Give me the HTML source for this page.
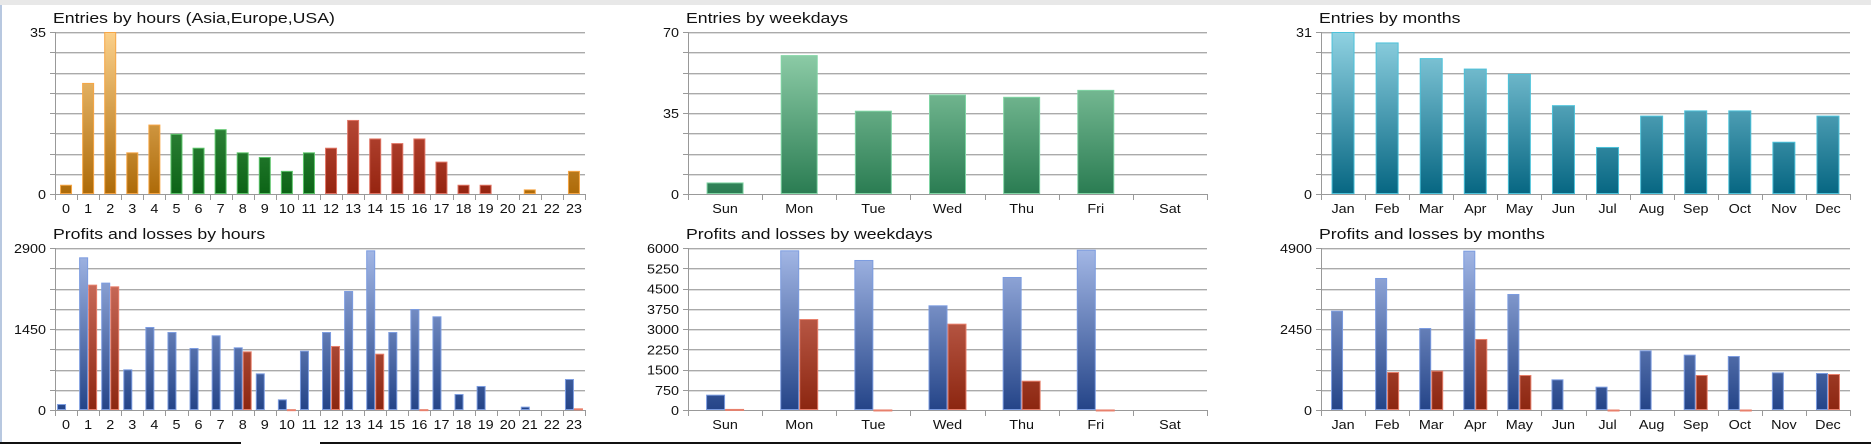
<!DOCTYPE html>
<html><head><meta charset="utf-8">
<style>
html,body{margin:0;padding:0;background:#fff;width:1871px;height:444px;overflow:hidden;font-family:"Liberation Sans",sans-serif}
#top-strip{position:absolute;left:0;top:0;width:1871px;height:5px;background:#e8e8e8}
#left-edge{position:absolute;left:0;top:5px;width:2px;height:439px;background:#b8c8e0}
.bl{position:absolute;top:442px;height:2px;background:#111}
svg{position:absolute;left:0;top:0}
</style></head>
<body>
<div id="top-strip"></div>
<div id="left-edge"></div>
<div class="bl" style="left:0;width:241px"></div>
<div class="bl" style="left:320px;width:1551px"></div>
<svg id="chart" width="1871" height="444">
<defs>
<linearGradient id="gOrange" x1="0" y1="0" x2="0" y2="1"><stop offset="0" stop-color="#fbd08a"/><stop offset="1" stop-color="#ad6a08"/></linearGradient>
<linearGradient id="gGreen" x1="0" y1="0" x2="0" y2="1"><stop offset="0" stop-color="#5aa864"/><stop offset="1" stop-color="#0c6416"/></linearGradient>
<linearGradient id="gRed" x1="0" y1="0" x2="0" y2="1"><stop offset="0" stop-color="#d87060"/><stop offset="1" stop-color="#962410"/></linearGradient>
<linearGradient id="gMint" x1="0" y1="0" x2="0" y2="1"><stop offset="0" stop-color="#9cd8b4"/><stop offset="1" stop-color="#2a7c52"/></linearGradient>
<linearGradient id="gTeal" x1="0" y1="0" x2="0" y2="1"><stop offset="0" stop-color="#90d2e2"/><stop offset="1" stop-color="#066682"/></linearGradient>
<linearGradient id="gBlue" x1="0" y1="0" x2="0" y2="1"><stop offset="0" stop-color="#a4b8e6"/><stop offset="1" stop-color="#244488"/></linearGradient>
<linearGradient id="gLoss" x1="0" y1="0" x2="0" y2="1"><stop offset="0" stop-color="#d87c6c"/><stop offset="1" stop-color="#8c2610"/></linearGradient>
</defs>
</svg>
<script>
const hourLabels = ['0','1','2','3','4','5','6','7','8','9','10','11','12','13','14','15','16','17','18','19','20','21','22','23'];
const hourEntries = [2,24,35,9,15,13,10,14,9,8,5,9,10,16,12,11,12,7,2,2,0,1,0,5];
const hourSession = ['asia','asia','asia','asia','asia','eu','eu','eu','eu','eu','eu','eu','us','us','us','us','us','us','us','us','asia','asia','asia','asia'];
const hourProfits = [107,2733,2280,728,1486,1396,1110,1337,1122,656,191,1062,1396,2130,2858,1396,1808,1677,286,430,0,60,0,555];
const hourLosses = [0,2244,2214,0,0,0,0,0,1050,0,15,0,1146,0,1008,0,15,0,0,0,0,0,0,30];
const hourEntryTicks = ['0','35'];
const hourPLTicks = ['0','1450','2900'];

const dayLabels = ['Sun','Mon','Tue','Wed','Thu','Fri','Sat'];
const dayEntries = [5,60,36,43,42,45,0];
const dayProfits = [568,5914,5556,3877,4926,5938,0];
const dayLosses = [40,3370,20,3198,1086,20,0];
const dayEntryTicks = ['0','35','70'];
const dayPLTicks = ['0','750','1500','2250','3000','3750','4500','5250','6000'];

const monthLabels = ['Jan','Feb','Mar','Apr','May','Jun','Jul','Aug','Sep','Oct','Nov','Dec'];
const monthEntries = [31,29,26,24,23,17,9,15,16,16,10,15];
const monthProfits = [3005,3993,2480,4819,3509,928,706,1805,1674,1633,1139,1119];
const monthLosses = [0,1149,1190,2148,1059,0,15,0,1059,15,0,1089];
const monthEntryTicks = ['0','31'];
const monthPLTicks = ['0','2450','4900'];

const NS='http://www.w3.org/2000/svg';
const svg=document.getElementById('chart');
function mk(tag,attrs,parent){const e=document.createElementNS(NS,tag);for(const k in attrs)e.setAttribute(k,attrs[k]);(parent||svg).appendChild(e);return e;}
function txt(parent,x,y,size,anchor,sx){
  return mk('text',{x:0,y:0,transform:'translate('+x+','+y+') scale('+sx+',1)','font-size':size,fill:'#111','text-anchor':anchor},parent);
}

function drawChart(o){
  const g=mk('g',{});
  
  
  const t=txt(g,o.x0-2,o.y0-9,14.5,'start',1.22);
  t.textContent=o.title;
  
  
  const max=Number(o.ticks[o.ticks.length-1]);
  const yS=v=>o.y1-(v/max)*(o.y1-o.y0);
  for(let i=0;i<=8;i++){
    const y=Math.round(o.y0+(o.y1-o.y0)*i/8)+0.5;
    const gl=mk('line',{x1:o.x0,x2:o.x1,y1:y,y2:y,stroke:i===8?'#999':'#aaa','stroke-width':1},g);
    
    
    if(i<8) mk('line',{x1:o.x0,x2:o.x1,y1:y+1,y2:y+1,stroke:'#dedede','stroke-width':1},g);
    mk('line',{x1:o.x0-5,x2:o.x0,y1:y,y2:y,stroke:'#999'},g);
  }
  mk('line',{x1:o.x0+0.5,x2:o.x0+0.5,y1:o.y0,y2:o.y1+6,stroke:'#999'},g);
  o.ticks.forEach(tv=>{
    const tl=txt(g,o.x0-9,yS(Number(tv))+5,12.5,'end',1.15);
    tl.textContent=tv;
    
    
  });
  const n=o.labels.length, band=(o.x1-o.x0)/n;
  o.labels.forEach((lab,i)=>{
    const bx=Math.round(o.x0+band*(i+1))+0.5;
    mk('line',{x1:bx,x2:bx,y1:o.y1,y2:o.y1+6,stroke:'#999'},g);
    const xl=txt(g,o.x0+band*(i+0.5),o.y1+19,12.5,'middle',1.15);
    xl.textContent=lab;
    
    
  });
  o.series.forEach((s,si)=>{
    s.values.forEach((v,i)=>{
      if(v<=0)return;
      const cx=o.x0+band*(i+0.5);
      let bx;
      if(o.series.length===1) bx=cx-o.bw/2; else bx=si===0?cx-o.bw:cx;
      const y=yS(v);
      const fill=typeof s.fill==='function'?s.fill(i):s.fill;
      const stroke=typeof s.stroke==='function'?s.stroke(i):s.stroke;
      const gid='gr_'+o.name+'_'+si+'_'+i;
      const lg=mk('linearGradient',{id:gid,gradientUnits:'userSpaceOnUse',x1:0,y1:o.y0,x2:0,y2:o.y1},svg.querySelector('defs'));
      const src=document.getElementById(fill);
      src.querySelectorAll('stop').forEach(st=>mk('stop',{offset:st.getAttribute('offset'),'stop-color':st.getAttribute('stop-color')},lg));
      const r=mk('rect',{x:bx+0.5,y:y+0.5,width:o.bw-1,height:Math.max(o.y1-y-1,1),fill:'url(#'+gid+')',stroke:stroke,'stroke-width':1},g);
      
      
    });
  });
}
const sessFill={asia:'gOrange',eu:'gGreen',us:'gRed'};
const sessStroke={asia:'#f6a646',eu:'#5cc46a',us:'#e07464'};

drawChart({name:'entries-by-hours',title:'Entries by hours (Asia,Europe,USA)',x0:55,x1:585,y0:32,y1:194,labels:hourLabels,ticks:hourEntryTicks,bw:12,
  series:[{name:'entries',values:hourEntries,fill:i=>sessFill[hourSession[i]],stroke:i=>sessStroke[hourSession[i]]}]});
drawChart({name:'profits-losses-by-hours',title:'Profits and losses by hours',x0:55,x1:585,y0:248,y1:410,labels:hourLabels,ticks:hourPLTicks,bw:9,
  series:[{name:'profit',values:hourProfits,fill:'gBlue',stroke:'#7c9ce0'},{name:'loss',values:hourLosses,fill:'gLoss',stroke:'#e8806c'}]});
drawChart({name:'entries-by-weekdays',title:'Entries by weekdays',x0:688,x1:1207,y0:32,y1:194,labels:dayLabels,ticks:dayEntryTicks,bw:37,
  series:[{name:'entries',values:dayEntries,fill:'gMint',stroke:'#80d4a4'}]});
drawChart({name:'profits-losses-by-weekdays',title:'Profits and losses by weekdays',x0:688,x1:1207,y0:248,y1:410,labels:dayLabels,ticks:dayPLTicks,bw:19,
  series:[{name:'profit',values:dayProfits,fill:'gBlue',stroke:'#7c9ce0'},{name:'loss',values:dayLosses,fill:'gLoss',stroke:'#e8806c'}]});
drawChart({name:'entries-by-months',title:'Entries by months',x0:1321,x1:1850,y0:32,y1:194,labels:monthLabels,ticks:monthEntryTicks,bw:23,
  series:[{name:'entries',values:monthEntries,fill:'gTeal',stroke:'#4cc2da'}]});
drawChart({name:'profits-losses-by-months',title:'Profits and losses by months',x0:1321,x1:1850,y0:248,y1:410,labels:monthLabels,ticks:monthPLTicks,bw:12,
  series:[{name:'profit',values:monthProfits,fill:'gBlue',stroke:'#7c9ce0'},{name:'loss',values:monthLosses,fill:'gLoss',stroke:'#e8806c'}]});
</script>
</body></html>
